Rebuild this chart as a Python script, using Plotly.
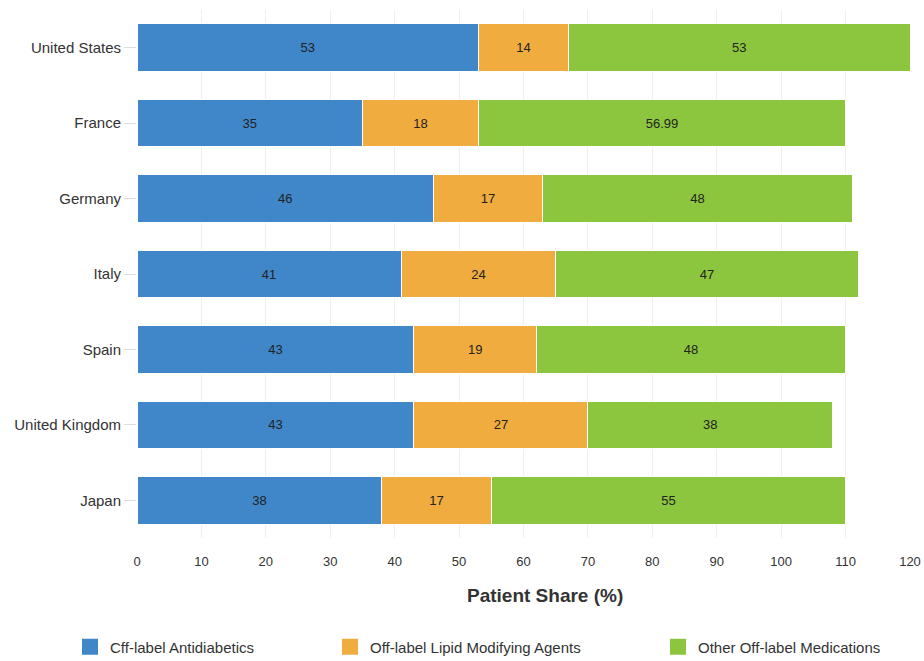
import plotly.graph_objects as go

countries = ["United States", "France", "Germany", "Italy", "Spain", "United Kingdom", "Japan"]
antidiabetics = [53, 35, 46, 41, 43, 43, 38]
lipid_agents = [14, 18, 17, 24, 19, 27, 17]
other_meds = [53, 56.99, 48, 47, 48, 38, 55]

series_names = ["Cff-label Antidiabetics", "Off-label Lipid Modifying Agents", "Other Off-label Medications"]
colors = ["#3f87c9", "#f0ac3f", "#8cc63e"]
x_title = "Patient Share (%)"

FONT = "Liberation Sans, Arial, sans-serif"
W, H = 924, 661
ML, MR, MT, MB = 137, 14, 10, 123
plot_w, plot_h = W - ML - MR, H - MT - MB

# each series gets its own legend box so the three entries can sit at their own offsets
legend_ids = ["legend", "legend2", "legend3"]
legend_left_px = [70, 330, 658]

fig = go.Figure()
for name, vals, col, lid in zip(series_names, [antidiabetics, lipid_agents, other_meds], colors, legend_ids):
    fig.add_trace(go.Bar(
        y=countries, x=vals, name=name, orientation="h",
        marker=dict(color=col, line=dict(color="white", width=1)),
        text=[f"{v:g}" for v in vals], textposition="inside",
        insidetextanchor="middle",
        textfont=dict(color="#222222", size=13, family=FONT),
        showlegend=False,
    ))
    # square legend marker (larger than the default bar swatch)
    fig.add_trace(go.Scatter(
        x=[None], y=[None], mode="markers", name=name,
        marker=dict(symbol="square", size=16, color=col),
        legend=lid, showlegend=True, hoverinfo="skip",
    ))

legend_common = dict(
    orientation="h", xref="container", yref="container",
    y=(H - 647) / H, yanchor="middle", xanchor="left",
    font=dict(size=15, color="#333333", family=FONT),
    bgcolor="rgba(0,0,0,0)",
)

fig.update_layout(
    barmode="stack",
    bargap=0.37,
    width=W, height=H,
    margin=dict(l=ML, r=MR, t=MT, b=MB, autoexpand=False),
    paper_bgcolor="white", plot_bgcolor="white",
    font=dict(family=FONT, color="#333333", size=13),
    uniformtext=dict(minsize=11, mode="show"),
    xaxis=dict(
        range=[0, 120], dtick=10, showgrid=True, gridcolor="#f1efe6", gridwidth=1,
        zeroline=False, ticks="", tickfont=dict(size=13, color="#333333"),
        ticklabelstandoff=14, ticklabeloverflow="allow", automargin=False,
    ),
    yaxis=dict(
        categoryorder="array", categoryarray=countries[::-1],
        ticks="outside", ticklen=12, tickcolor="#dddddd", automargin=False,
        tickfont=dict(size=15, color="#333333"), showgrid=False,
    ),
    legend=dict(x=legend_left_px[0] / W, **legend_common),
    legend2=dict(x=legend_left_px[1] / W, **legend_common),
    legend3=dict(x=legend_left_px[2] / W, **legend_common),
    annotations=[dict(
        text=f"<b>{x_title}</b>", showarrow=False,
        xref="paper", yref="paper",
        x=(545 - ML) / plot_w, y=-(595 - (MT + plot_h)) / plot_h,
        xanchor="center", yanchor="middle",
        font=dict(size=19, color="#333333", family=FONT),
    )],
)

fig.write_html("out.html")
